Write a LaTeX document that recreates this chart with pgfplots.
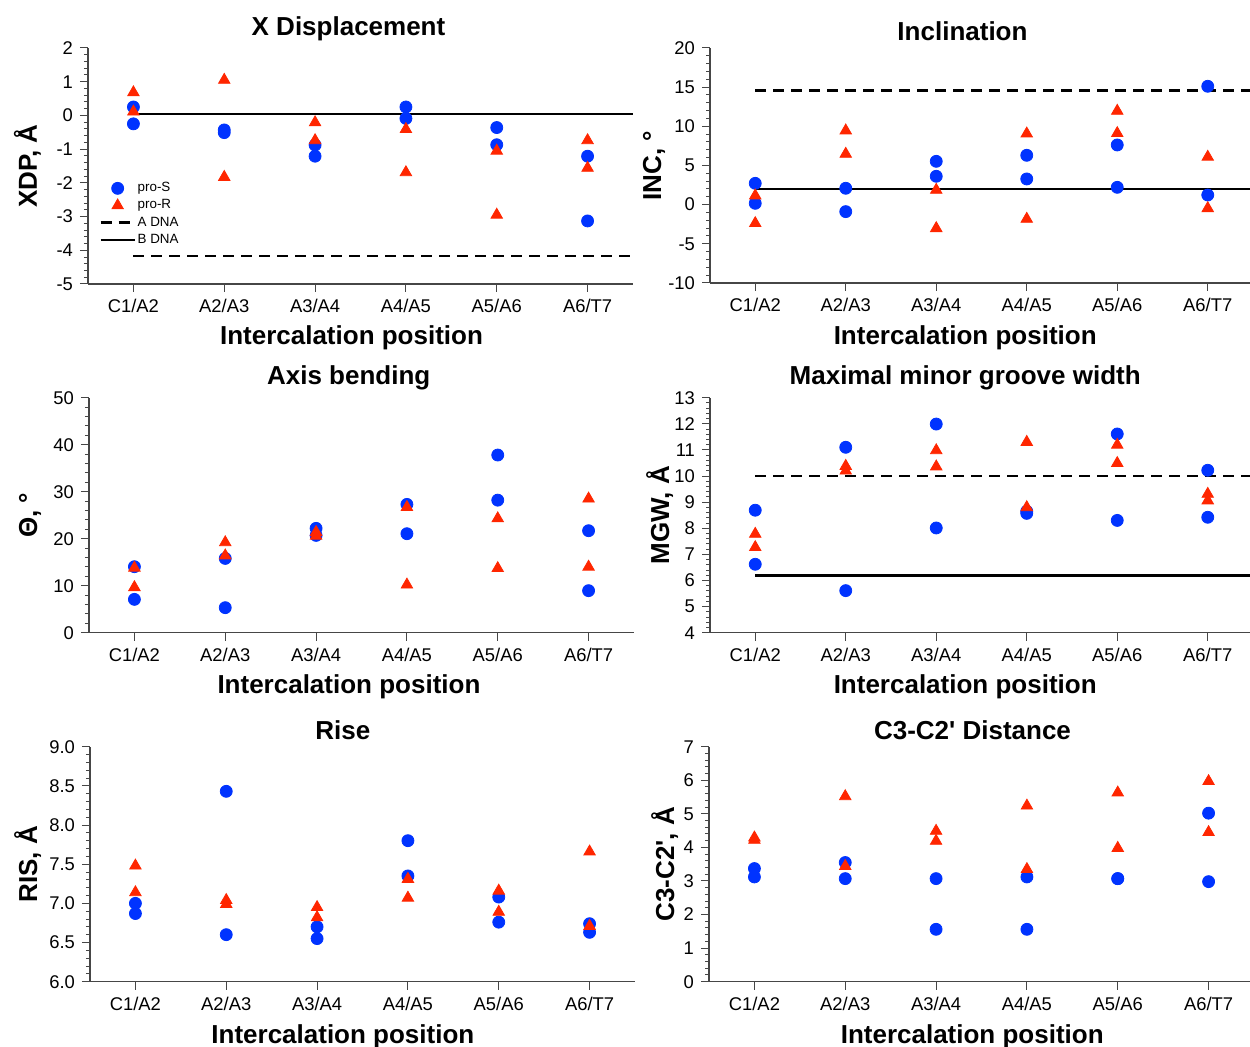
\documentclass[border=0pt]{standalone}
\usepackage{fontspec}
\setmainfont{Liberation Sans}
\usepackage{pgfplots}
\pgfplotsset{compat=1.18}

\definecolor{sblue}{RGB}{0,51,255}
\definecolor{rred}{RGB}{255,38,0}
\definecolor{axgray}{RGB}{70,70,70}

\pgfplotsset{
 panel/.style={
   scale only axis,
   width=272.5pt, height=117.5pt,
   xmin=-0.5, xmax=5.5,
   xtick={0,...,5},
   xticklabels={C1/A2,A2/A3,A3/A4,A4/A5,A5/A6,A6/T7},
   axis x line=bottom, axis y line=left,
   axis line style={-, line width=0.6pt, axgray},
   tick align=outside,
   major tick length=4pt, minor tick length=2pt,
   every tick/.style={line width=0.5pt, axgray},
   minor y tick num=4,
   tick label style={font=\fontsize{9.2}{10}\selectfont},
   /pgf/number format/assume math mode=true,
   label style={font=\bfseries\fontsize{13}{15}\selectfont},
   title style={font=\bfseries\fontsize{13}{15}\selectfont, anchor=base},
   xlabel={Intercalation position},
   clip=false,
 },
 sS/.style={only marks, mark=*, mark size=3pt, color=sblue, mark options={draw=sblue, fill=sblue}},
 sR/.style={only marks, mark=triangle*, mark size=3.3pt, color=rred, mark options={draw=rred, fill=rred}},
 lA/.style={black, line width=1.3pt, dash pattern=on 5.5pt off 3.5pt, no marks},
 lB/.style={black, line width=1.3pt, no marks},
}

\begin{document}
\begin{tikzpicture}
\useasboundingbox (0,0) rectangle (625pt,523.5pt);

% Panel 1: X Displacement
\begin{axis}[panel, at={(44pt,381.5pt)}, anchor=south west, height=118pt,
  ymin=-5, ymax=2, ytick={-5,...,2},
  title={X Displacement}, title style={at={(0.478,1)}, yshift=0pt},
  xlabel style={at={(axis description cs:0.4835,0)}, anchor=base, yshift=-30.5pt},
  ylabel={XDP, Å}, ylabel style={at={(axis description cs:-0.0936,0.5)}, anchor=base},
  legend style={draw=none, fill=none, at={(0.02,0.44)}, anchor=north west,
    font=\fontsize{6.7}{7}\selectfont, row sep=0.8pt, inner sep=0pt,
    nodes={inner sep=0.8pt, text height=4.8pt, text depth=1.4pt}},
  legend cell align=left]
\addlegendimage{sS}\addlegendentry{pro-S}
\addlegendimage{sR}\addlegendentry{pro-R}
\addlegendimage{lA}\addlegendentry{A DNA}
\addlegendimage{lB}\addlegendentry{B DNA}
\addplot[lA, forget plot] coordinates {(0,-4.17) (5.5,-4.17)};
\addplot[lB, forget plot] coordinates {(0,0.04) (5.5,0.04)};
\addplot[sS, forget plot] coordinates {(0,0.25) (0,-0.25) (1,-0.43) (1,-0.51) (2,-0.88) (2,-1.21) (3,0.25) (3,-0.09) (4,-0.36) (4,-0.87) (5,-1.21) (5,-3.13)};
\addplot[sR, forget plot] coordinates {(0,0.68) (0,0.11) (1,1.05) (1,-1.83) (2,-0.21) (2,-0.74) (3,-0.41) (3,-1.69) (4,-1.05) (4,-2.95) (5,-0.74) (5,-1.56)};
\end{axis}

% Panel 2: Inclination
\begin{axis}[panel, at={(355pt,382pt)}, anchor=south west, width=271.5pt,
  ymin=-10, ymax=20, ytick distance=5,
  title={Inclination}, title style={at={(0.465,1)}, yshift=-2.5pt},
  xlabel style={at={(axis description cs:0.47,0)}, anchor=base, yshift=-31pt},
  ylabel={INC, °}, ylabel style={at={(axis description cs:-0.090,0.5)}, anchor=base}]
\addplot[lA] coordinates {(0,14.55) (5.5,14.55)};
\addplot[lB] coordinates {(0,1.98) (5.5,1.98)};
\addplot[sS] coordinates {(0,2.72) (0,0.17) (1,2.09) (1,-0.89) (2,5.53) (2,3.62) (3,6.30) (3,3.28) (4,7.62) (4,2.21) (5,15.11) (5,1.23)};
\addplot[sR] coordinates {(0,1.15) (0,-2.38) (1,9.45) (1,6.47) (2,1.87) (2,-3.02) (3,9.06) (3,-1.83) (4,11.96) (4,9.11) (5,6.09) (5,-0.47)};
\end{axis}

% Panel 3: Axis bending
\begin{axis}[panel, at={(44.5pt,207.15pt)}, anchor=south west,
  ymin=0, ymax=50, ytick distance=10,
  title={Axis bending}, title style={at={(0.4765,1)}, yshift=0.6pt},
  xlabel style={at={(axis description cs:0.477,0)}, anchor=base, yshift=-30.5pt},
  ylabel={Θ, °}, ylabel style={at={(axis description cs:-0.0954,0.5)}, anchor=base}]
\addplot[sS] coordinates {(0,14.04) (0,7.09) (1,15.8) (1,5.32) (2,22.2) (2,20.7) (3,27.3) (3,21.06) (4,37.8) (4,28.2) (5,21.7) (5,8.94)};
\addplot[sR] coordinates {(0,13.8) (0,9.65) (1,19.2) (1,16.4) (2,21.4) (2,20.6) (3,26.7) (3,10.2) (4,24.3) (4,13.7) (5,28.5) (5,14.0)};
\end{axis}

% Panel 4: Maximal minor groove width
\begin{axis}[panel, at={(355pt,207.15pt)}, anchor=south west, width=271.5pt,
  ymin=4, ymax=13, ytick distance=1,
  title={Maximal minor groove width}, title style={at={(0.47,1)}, yshift=0.6pt},
  xlabel style={at={(axis description cs:0.47,0)}, anchor=base, yshift=-30.5pt},
  ylabel={MGW, Å}, ylabel style={at={(axis description cs:-0.0755,0.5)}, anchor=base}]
\addplot[lA] coordinates {(0,10.0) (5.5,10.0)};
\addplot[lB] coordinates {(0,6.18) (5.5,6.18)};
\addplot[sS] coordinates {(0,8.69) (0,6.62) (1,11.10) (1,5.61) (2,11.99) (2,8.01) (3,8.57) (3,8.65) (4,11.61) (4,8.30) (5,10.22) (5,8.42)};
\addplot[sR] coordinates {(0,7.78) (0,7.27) (1,10.38) (1,10.20) (2,10.98) (2,10.36) (3,11.30) (3,8.80) (4,11.19) (4,10.49) (5,9.31) (5,9.06)};
\end{axis}

% Panel 5: Rise
\begin{axis}[panel, at={(45pt,32.65pt)}, anchor=south west,
  ymin=6, ymax=9, ytick distance=0.5,
  yticklabel style={/pgf/number format/.cd, fixed, fixed zerofill, precision=1},
  title={Rise}, title style={at={(0.464,1)}, yshift=-2.2pt},
  xlabel style={at={(axis description cs:0.464,0)}, anchor=base, yshift=-31pt},
  ylabel={RIS, Å}, ylabel style={at={(axis description cs:-0.097,0.5)}, anchor=base}]
\addplot[sS] coordinates {(0,7.00) (0,6.87) (1,8.43) (1,6.60) (2,6.70) (2,6.55) (3,7.80) (3,7.35) (4,7.08) (4,6.76) (5,6.74) (5,6.63)};
\addplot[sR] coordinates {(0,7.48) (0,7.14) (1,7.04) (1,6.99) (2,6.95) (2,6.82) (3,7.31) (3,7.07) (4,7.16) (4,6.89) (5,7.66) (5,6.71)};
\end{axis}

% Panel 6: C3-C2' Distance
\begin{axis}[panel, at={(354.5pt,32.65pt)}, anchor=south west,
  ymin=0, ymax=7, ytick distance=1,
  title={C3-C2\textquotesingle\ Distance}, title style={at={(0.4835,1)}, yshift=-2.2pt},
  xlabel style={at={(axis description cs:0.483,0)}, anchor=base, yshift=-31pt},
  ylabel={C3-C2\textquotesingle, Å}, ylabel style={at={(axis description cs:-0.064,0.5)}, anchor=base}]
\addplot[sS] coordinates {(0,3.37) (0,3.12) (1,3.55) (1,3.07) (2,3.07) (2,1.56) (3,3.12) (3,1.56) (4,3.07) (4,3.07) (5,5.02) (5,2.98)};
\addplot[sR] coordinates {(0,4.29) (0,4.22) (1,5.52) (1,3.44) (2,4.49) (2,4.19) (3,5.24) (3,3.35) (4,5.63) (4,3.98) (5,5.97) (5,4.45)};
\end{axis}
\end{tikzpicture}
\end{document}
